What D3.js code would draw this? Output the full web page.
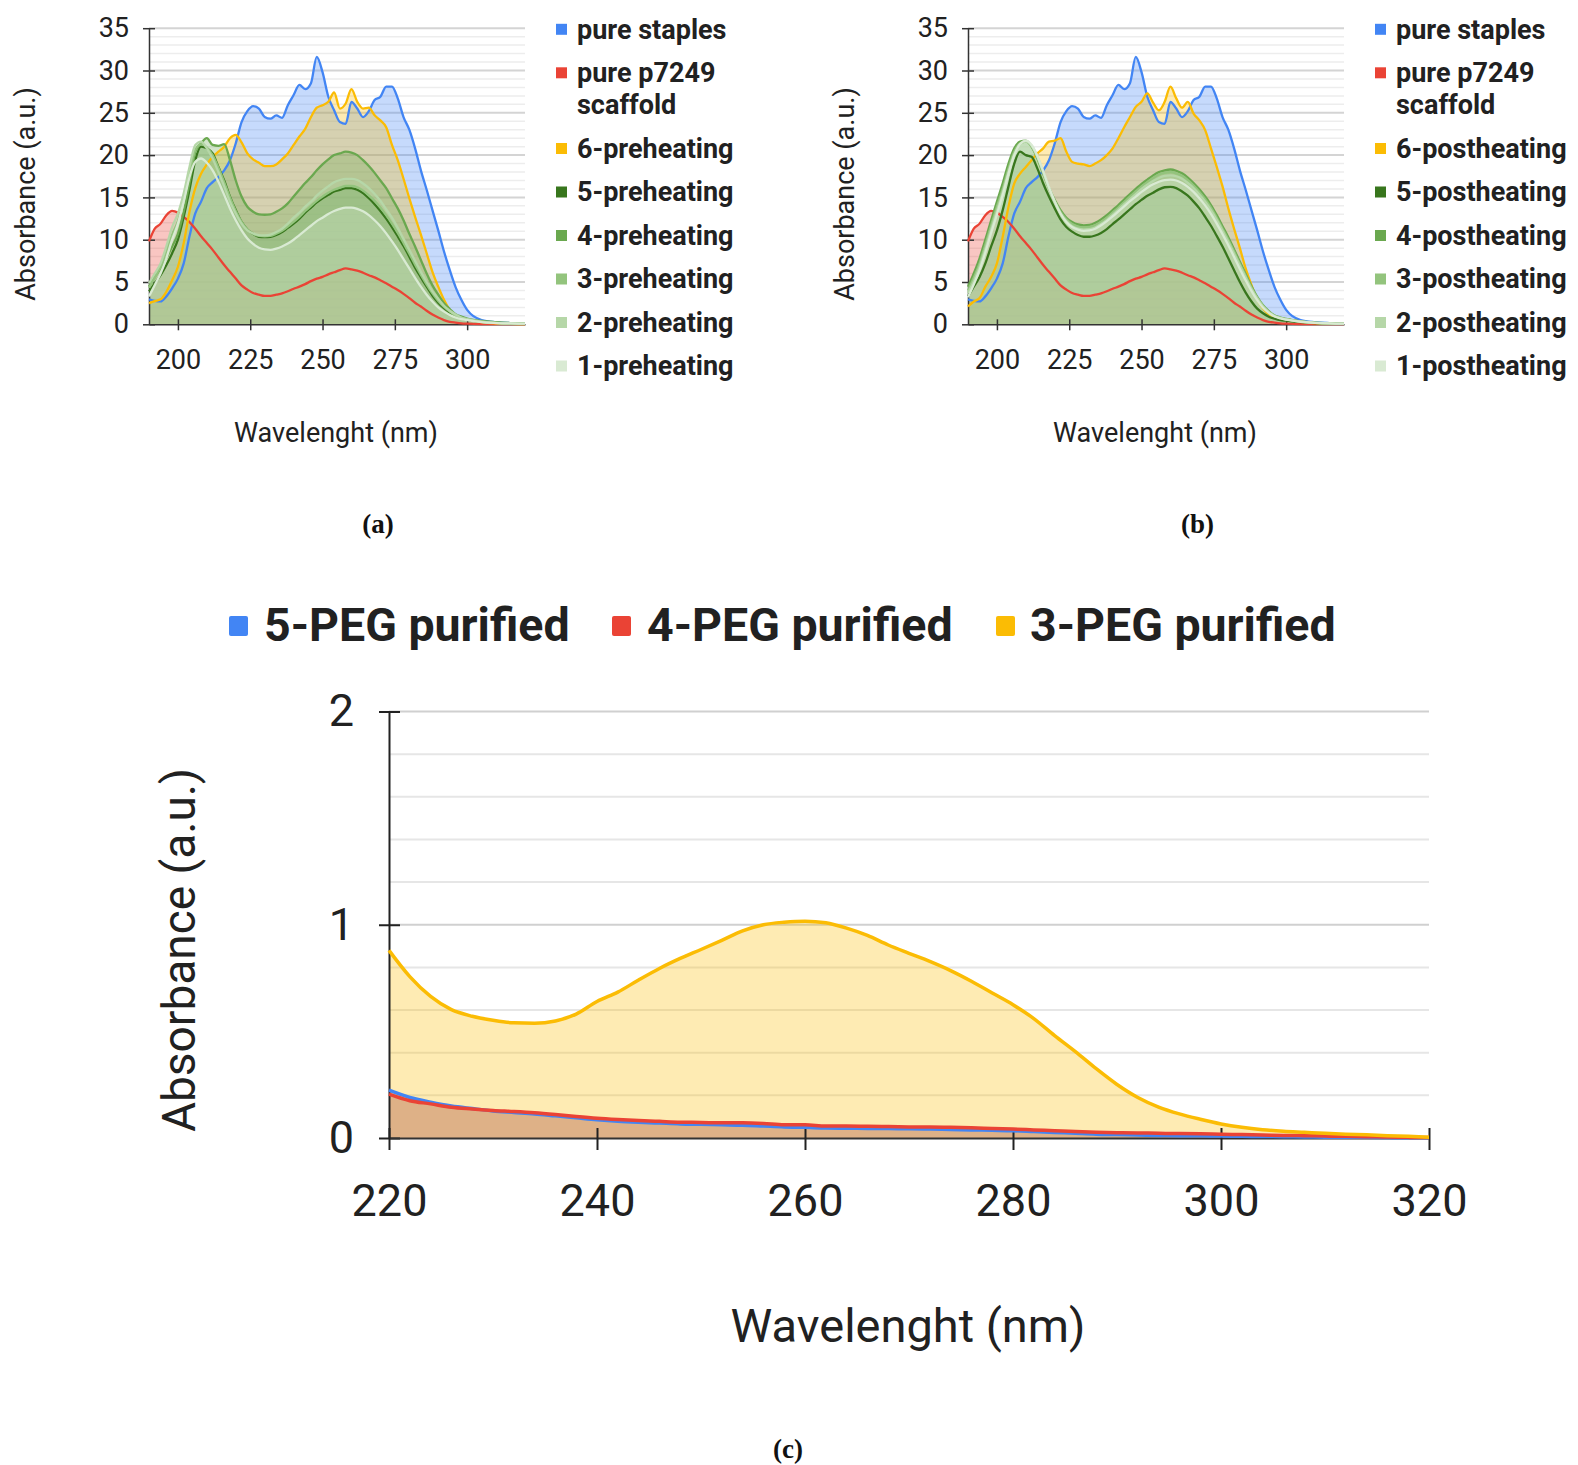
<!DOCTYPE html>
<html>
<head>
<meta charset="utf-8">
<script src="https://cdn.jsdelivr.net/npm/d3@7"></script>
<style>
  body { margin: 0; background: #fff; }
  svg { display: block; font-family: Roboto, sans-serif; }
</style>
</head>
<body>
<svg id="fig" width="1578" height="1465"></svg>
<script>
// ---- panels (a) and (b): UV spectra, 190-320 nm ----
var wavelengths = [190, 192, 194, 196, 198, 200, 202, 204, 206, 208,
  210, 212, 214, 216, 218, 220, 222, 224, 226, 228,
  230, 232, 234, 236, 238, 240, 242, 244, 246, 248,
  250, 252, 254, 256, 258, 260, 262, 264, 266, 268,
  270, 272, 274, 276, 278, 280, 282, 284, 286, 288,
  290, 292, 294, 296, 298, 300, 305, 310, 315, 320];

var pureStaples = [2.95, 2.76, 2.7, 3.3, 4.25, 5.4, 7.2, 10.4, 13.1, 14.5,
  16.1, 16.8, 17.4, 18.2, 19.4, 21.4, 23.9, 25.2, 25.8, 25.5,
  24.5, 24.3, 24.7, 24.4, 25.9, 27.1, 28.3, 27.8, 28.5, 31.6,
  29.8, 26.9, 25.3, 23.9, 23.7, 26.3, 25.5, 24.5, 25.2, 26.5,
  26.9, 28.1, 28.1, 26.7, 24.5, 23.0, 20.8, 18.2, 15.9, 13.5,
  11.1, 8.6, 6.4, 4.4, 2.9, 1.7, 0.5, 0.25, 0.15, 0.1];

var pureScaffold = [9.8, 11.3, 11.9, 12.9, 13.4, 13.2, 12.7, 12.1, 11.3, 10.4,
  9.6, 8.8, 7.9, 7.0, 6.2, 5.4, 4.6, 4.1, 3.7, 3.5,
  3.35, 3.35, 3.5, 3.65, 3.9, 4.2, 4.45, 4.75, 5.1, 5.4,
  5.6, 5.9, 6.15, 6.4, 6.6, 6.5, 6.35, 6.1, 5.8, 5.55,
  5.2, 4.85, 4.45, 4.05, 3.6, 3.1, 2.55, 2.1, 1.6, 1.15,
  0.8, 0.5, 0.3, 0.2, 0.12, 0.08, 0.03, 0.02, 0.01, 0.01];

var pre6 = [2.5, 2.75, 2.95, 3.85, 5.2, 6.8, 9.6, 13.3, 16.1, 17.8,
  18.9, 19.8, 20.4, 21.0, 22.0, 22.4, 21.5, 20.2, 19.5, 19.1,
  18.7, 18.7, 18.9, 19.5, 20.2, 21.2, 22.2, 23.1, 24.5, 25.6,
  25.9, 26.3, 27.4, 25.5, 26.1, 27.8, 26.3, 25.5, 25.6, 24.7,
  24.1, 23.3, 21.2, 19.4, 17.2, 14.9, 12.7, 10.6, 8.4, 6.2,
  4.45, 2.9, 1.7, 1.1, 0.8, 0.6, 0.25, 0.1, 0.05, 0.03];

var pre5 = [3.9, 4.85, 5.8, 7.0, 8.4, 10.0, 12.7, 15.9, 19.4, 21.0,
  20.8, 20.2, 18.6, 17.0, 15.1, 13.5, 12.1, 11.2, 10.7, 10.35,
  10.3, 10.35, 10.55, 10.9, 11.4, 11.9, 12.5, 13.2, 13.8, 14.4,
  14.9, 15.3, 15.7, 15.9, 16.1, 16.1, 15.9, 15.5, 14.9, 14.2,
  13.4, 12.5, 11.5, 10.4, 9.25, 8.0, 6.7, 5.55, 4.45, 3.4,
  2.55, 1.9, 1.4, 1.0, 0.7, 0.55, 0.3, 0.18, 0.1, 0.07];

var pre4 = [4.45, 5.6, 6.6, 7.8, 9.2, 10.7, 13.3, 16.7, 20.4, 21.4,
  22.0, 21.2, 21.1, 21.3, 19.4, 17.0, 15.1, 13.9, 13.3, 13.0,
  12.95, 13.0, 13.3, 13.7, 14.3, 15.1, 15.9, 16.7, 17.4, 18.2,
  18.9, 19.5, 20.0, 20.2, 20.4, 20.3, 20.0, 19.4, 18.7, 17.9,
  17.0, 16.1, 14.9, 13.7, 12.3, 10.7, 9.2, 7.6, 6.0, 4.6,
  3.5, 2.5, 1.8, 1.2, 0.9, 0.67, 0.4, 0.25, 0.15, 0.1];

var pre3 = [4.3, 5.5, 6.8, 8.6, 10.6, 12.2, 14.6, 17.8, 20.6, 21.3,
  20.9, 20.0, 18.5, 16.8, 15.0, 13.4, 12.1, 11.2, 10.7, 10.45,
  10.4, 10.45, 10.7, 11.05, 11.55, 12.1, 12.7, 13.4, 14.0, 14.6,
  15.1, 15.55, 15.9, 16.15, 16.35, 16.35, 16.2, 15.8, 15.25, 14.6,
  13.8, 12.9, 11.9, 10.8, 9.6, 8.35, 7.05, 5.85, 4.7, 3.65,
  2.75, 2.05, 1.5, 1.05, 0.75, 0.58, 0.3, 0.18, 0.1, 0.07];

var pre2 = [4.85, 6.0, 7.2, 9.2, 11.5, 13.1, 15.5, 18.6, 21.2, 21.6,
  20.8, 19.6, 18.0, 16.3, 14.5, 13.1, 11.9, 11.1, 10.75, 10.55,
  10.5, 10.6, 10.9, 11.3, 11.9, 12.6, 13.2, 13.9, 14.5, 15.2,
  15.8, 16.3, 16.8, 17.05, 17.2, 17.2, 17.05, 16.65, 16.1, 15.4,
  14.6, 13.6, 12.6, 11.4, 10.1, 8.8, 7.5, 6.2, 5.0, 3.9,
  3.0, 2.2, 1.6, 1.15, 0.8, 0.6, 0.3, 0.18, 0.1, 0.07];

var pre1 = [3.3, 4.65, 6.0, 7.8, 10.0, 11.9, 14.5, 17.4, 19.2, 19.6,
  19.1, 18.2, 16.85, 15.3, 13.7, 12.3, 11.1, 10.15, 9.5, 9.05,
  8.85, 8.8, 8.95, 9.2, 9.55, 10.0, 10.55, 11.1, 11.65, 12.2,
  12.6, 13.05, 13.4, 13.65, 13.8, 13.8, 13.65, 13.35, 12.9, 12.3,
  11.6, 10.75, 9.8, 8.8, 7.7, 6.6, 5.5, 4.45, 3.5, 2.7,
  2.0, 1.5, 1.1, 0.8, 0.6, 0.5, 0.25, 0.15, 0.1, 0.07];

var post6 = [2.1, 2.7, 3.1, 4.45, 5.6, 7.2, 10.35, 13.9, 16.65, 17.8,
  18.6, 19.4, 20.2, 20.8, 21.6, 21.7, 22.0, 20.4, 19.2, 19.0,
  18.9, 18.7, 19.0, 19.4, 20.0, 20.8, 22.0, 23.3, 24.5, 25.7,
  26.3, 27.3, 26.2, 25.3, 26.3, 28.1, 26.7, 25.6, 26.3, 24.9,
  24.1, 22.95, 20.8, 18.6, 16.3, 13.7, 11.3, 9.0, 6.6, 4.65,
  2.95, 1.9, 1.2, 0.9, 0.7, 0.6, 0.3, 0.15, 0.08, 0.05];

var post5 = [3.3, 4.45, 5.6, 7.2, 9.2, 11.1, 13.5, 16.3, 19.0, 20.4,
  20.0, 19.8, 18.4, 16.65, 15.1, 13.7, 12.4, 11.5, 10.95, 10.55,
  10.35, 10.35, 10.5, 10.8, 11.25, 11.85, 12.4, 13.0, 13.6, 14.2,
  14.7, 15.2, 15.55, 15.95, 16.2, 16.25, 16.1, 15.7, 15.2, 14.5,
  13.7, 12.7, 11.65, 10.45, 9.2, 7.8, 6.4, 5.0, 3.75, 2.7,
  1.85, 1.3, 0.9, 0.67, 0.5, 0.43, 0.25, 0.15, 0.1, 0.07];

var post4 = [4.45, 6.0, 7.8, 10.0, 12.3, 14.5, 16.65, 19.0, 20.8, 21.6,
  21.7, 21.0, 19.6, 17.8, 16.1, 14.7, 13.5, 12.6, 12.1, 11.8,
  11.7, 11.75, 12.0, 12.4, 12.9, 13.5, 14.1, 14.75, 15.4, 16.0,
  16.6, 17.1, 17.6, 18.0, 18.2, 18.3, 18.15, 17.85, 17.35, 16.7,
  15.95, 15.1, 14.1, 12.9, 11.6, 10.3, 8.85, 7.4, 5.95, 4.5,
  3.25, 2.25, 1.55, 1.05, 0.8, 0.63, 0.35, 0.2, 0.12, 0.08];

var post3 = [4.0, 5.5, 7.2, 9.4, 11.7, 13.9, 16.0, 18.4, 20.4, 21.4,
  21.6, 21.0, 19.7, 17.9, 16.1, 14.6, 13.3, 12.4, 11.85, 11.55,
  11.45, 11.5, 11.7, 12.1, 12.6, 13.2, 13.8, 14.45, 15.1, 15.7,
  16.3, 16.8, 17.3, 17.7, 17.9, 18.0, 17.85, 17.55, 17.05, 16.4,
  15.65, 14.8, 13.8, 12.6, 11.3, 10.0, 8.6, 7.15, 5.75, 4.35,
  3.15, 2.2, 1.5, 1.0, 0.77, 0.6, 0.33, 0.19, 0.11, 0.08];

var post2 = [3.7, 5.1, 6.8, 8.9, 11.2, 13.4, 15.6, 18.0, 20.1, 21.3,
  21.6, 21.1, 19.8, 18.0, 16.1, 14.5, 13.1, 12.2, 11.6, 11.3,
  11.2, 11.25, 11.45, 11.85, 12.35, 12.95, 13.55, 14.2, 14.8, 15.4,
  16.0, 16.5, 16.95, 17.3, 17.55, 17.6, 17.5, 17.2, 16.7, 16.1,
  15.35, 14.5, 13.5, 12.35, 11.05, 9.75, 8.35, 6.95, 5.55, 4.2,
  3.05, 2.1, 1.45, 0.98, 0.75, 0.58, 0.32, 0.18, 0.1, 0.07];

var post1 = [3.2, 4.7, 6.4, 8.5, 10.8, 13.0, 15.3, 17.8, 20.0, 21.3,
  21.7, 21.2, 19.9, 18.1, 16.2, 14.5, 13.1, 12.1, 11.5, 11.2,
  11.05, 11.1, 11.3, 11.7, 12.2, 12.75, 13.35, 13.95, 14.55, 15.1,
  15.65, 16.15, 16.55, 16.85, 17.05, 17.1, 17.0, 16.7, 16.25, 15.65,
  14.9, 14.05, 13.05, 11.9, 10.65, 9.35, 7.95, 6.55, 5.2, 3.95,
  2.85, 1.95, 1.35, 0.92, 0.7, 0.55, 0.3, 0.17, 0.1, 0.07];

var labelsA = ["pure staples", "pure p7249 scaffold", "6-preheating", "5-preheating",
  "4-preheating", "3-preheating", "2-preheating", "1-preheating"];
var labelsB = ["pure staples", "pure p7249 scaffold", "6-postheating", "5-postheating",
  "4-postheating", "3-postheating", "2-postheating", "1-postheating"];
var spectrumColors = ["#4285f4", "#ea4335", "#fbbc04", "#38761d",
  "#6aa84f", "#93c47d", "#b6d7a8", "#d9ead3"];
var absTicks = [0, 5, 10, 15, 20, 25, 30, 35];
var nmTicks = [200, 225, 250, 275, 300];

// ---- panel (c): PEG purified samples, 220-320 nm ----
var wavelengthsC = [220, 222, 224, 226, 228, 230, 232, 234, 236, 238,
  240, 242, 244, 246, 248, 250, 252, 254, 256, 258,
  260, 262, 264, 266, 268, 270, 272, 274, 276, 278,
  280, 282, 284, 286, 288, 290, 292, 294, 296, 298,
  300, 302, 304, 306, 308, 310, 312, 314, 316, 318, 320];

var peg5 = [0.224, 0.19, 0.168, 0.15, 0.138, 0.127, 0.12, 0.113, 0.104, 0.095,
  0.086, 0.079, 0.074, 0.07, 0.066, 0.064, 0.062, 0.06, 0.056, 0.052,
  0.05, 0.047, 0.046, 0.045, 0.044, 0.043, 0.042, 0.04, 0.038, 0.036,
  0.034, 0.03, 0.026, 0.022, 0.018, 0.016, 0.014, 0.012, 0.011, 0.01,
  0.009, 0.008, 0.007, 0.006, 0.005, 0.004, 0.003, 0.003, 0.002, 0.001, 0.001];

var peg4 = [0.206, 0.175, 0.16, 0.144, 0.136, 0.129, 0.124, 0.118, 0.11, 0.101,
  0.093, 0.087, 0.082, 0.078, 0.074, 0.073, 0.071, 0.071, 0.068, 0.062,
  0.062, 0.056, 0.056, 0.055, 0.054, 0.052, 0.051, 0.05, 0.048, 0.045,
  0.042, 0.038, 0.034, 0.03, 0.027, 0.025, 0.024, 0.022, 0.021, 0.02,
  0.018, 0.016, 0.014, 0.012, 0.011, 0.009, 0.008, 0.006, 0.005, 0.003, 0.002];

var peg3 = [0.88, 0.757, 0.664, 0.602, 0.571, 0.552, 0.54, 0.538, 0.549, 0.581,
  0.64, 0.684, 0.741, 0.795, 0.842, 0.884, 0.927, 0.971, 1.0, 1.012,
  1.017, 1.009, 0.984, 0.95, 0.905, 0.866, 0.828, 0.785, 0.735, 0.68,
  0.625, 0.56, 0.48, 0.405, 0.325, 0.251, 0.19, 0.145, 0.113, 0.088,
  0.066, 0.05, 0.039, 0.032, 0.027, 0.022, 0.018, 0.015, 0.011, 0.008, 0.004];

var labelsC = ["5-PEG purified", "4-PEG purified", "3-PEG purified"];
var pegColors = ["#4285f4", "#ea4335", "#fbbc04"];
var pegTicksX = [220, 240, 260, 280, 300, 320];
var pegTicksY = [0, 1, 2];

var svg = d3.select("#fig");
var ink = "#212121";
var small = 27;

function styleAxis(a, size) {
  a.attr("font-family", "Roboto").attr("font-size", size);
  a.selectAll("text").attr("fill", ink);
  a.select(".domain").attr("stroke", "#333").attr("stroke-width", 1.5);
  a.selectAll(".tick line").attr("stroke", "#333").attr("stroke-width", 1.5);
}

function wrapLabel(text, label, maxWidth, lineHeight) {
  var words = label.split(" "), line = [], n = 1;
  var tspan = text.append("tspan").attr("x", text.attr("x"));
  words.forEach(function(w) {
    line.push(w);
    tspan.text(line.join(" "));
    if (line.length > 1 && tspan.node().getComputedTextLength() > maxWidth) {
      line.pop();
      tspan.text(line.join(" "));
      line = [w];
      n++;
      tspan = text.append("tspan").attr("x", text.attr("x")).attr("dy", lineHeight).text(w);
    }
  });
  return n;
}

function spectrumPanel(dx, labels, series) {
  var left = 149 + dx, right = 525 + dx, top = 28.2, bottom = 324.3;
  var x = d3.scaleLinear().domain([190, 320]).range([left, right]);
  var y = d3.scaleLinear().domain([0, 35]).range([bottom, top]);
  var g = svg.append("g");

  // grid: light line every unit, darker every 5
  g.append("g").selectAll("line").data(y.ticks(35).filter(function(d) { return d > 0; }))
    .enter().append("line")
    .attr("x1", left).attr("x2", right)
    .attr("y1", function(d) { return y(d); }).attr("y2", function(d) { return y(d); })
    .attr("stroke", function(d) { return d % 5 ? "#ededed" : "#d4d4d4"; })
    .attr("stroke-width", function(d) { return d % 5 ? 1.5 : 2; });

  var rows = series.map(function(s) {
    return wavelengths.map(function(w, i) { return [w, s[i]]; });
  });
  var area = d3.area().curve(d3.curveMonotoneX)
    .x(function(d) { return x(d[0]); }).y0(y(0)).y1(function(d) { return y(d[1]); });
  var line = d3.line().curve(d3.curveMonotoneX)
    .x(function(d) { return x(d[0]); }).y(function(d) { return y(d[1]); });

  g.append("g").selectAll("path").data(rows).enter().append("path")
    .attr("d", area).attr("fill", function(d, i) { return spectrumColors[i]; })
    .attr("fill-opacity", 0.3);

  g.append("g").attr("transform", "translate(" + left + ",0)")
    .call(d3.axisLeft(y).tickValues(absTicks).tickSize(6).tickPadding(14).tickSizeOuter(0))
    .call(function(a) { styleAxis(a, small); a.selectAll(".tick line").attr("x1", 6); });

  g.append("g").attr("transform", "translate(0," + bottom + ")")
    .call(d3.axisBottom(x).tickValues(nmTicks).tickSize(6).tickPadding(20).tickSizeOuter(0))
    .call(function(a) { styleAxis(a, small); a.selectAll(".tick line").attr("y1", -5); });

  g.append("g").selectAll("path").data(rows).enter().append("path")
    .attr("d", line).attr("fill", "none")
    .attr("stroke", function(d, i) { return spectrumColors[i]; })
    .attr("stroke-width", 2.3).attr("stroke-linejoin", "round");

  g.append("text")
    .attr("transform", "translate(" + (26 + dx) + ",194) rotate(-90)")
    .attr("text-anchor", "middle").attr("dy", "0.35em")
    .attr("font-size", small).attr("fill", ink).text("Absorbance (a.u.)");
  g.append("text")
    .attr("x", 336 + dx).attr("y", 433).attr("text-anchor", "middle").attr("dy", "0.35em")
    .attr("font-size", small).attr("fill", ink).text("Wavelenght (nm)");

  // legend
  var ly = 29.3;
  labels.forEach(function(lab, i) {
    g.append("rect").attr("x", 556 + dx).attr("y", ly - 5.5)
      .attr("width", 11).attr("height", 11).attr("fill", spectrumColors[i]);
    var t = g.append("text").attr("x", 577 + dx).attr("y", ly).attr("dy", "0.35em")
      .attr("font-size", small).attr("font-weight", "bold").attr("fill", ink);
    var n = wrapLabel(t, lab, 165, 32.2);
    ly += 43.5 + (n - 1) * 32.2;
  });
}

spectrumPanel(0, labelsA, [pureStaples, pureScaffold, pre6, pre5, pre4, pre3, pre2, pre1]);
spectrumPanel(819, labelsB, [pureStaples, pureScaffold, post6, post5, post4, post3, post2, post1]);

// ---- panel (c) ----
(function() {
  var left = 389, right = 1429, bottom = 1138, top = 711.5;
  var x = d3.scaleLinear().domain([220, 320]).range([left, right]);
  var y = d3.scaleLinear().domain([0, 2]).range([bottom, top]);
  var g = svg.append("g");

  g.append("g").selectAll("line").data(y.ticks(10).filter(function(d) { return d > 0; }))
    .enter().append("line")
    .attr("x1", left).attr("x2", right)
    .attr("y1", function(d) { return y(d); }).attr("y2", function(d) { return y(d); })
    .attr("stroke", function(d) { return Math.abs(d - Math.round(d)) < 1e-6 ? "#d0d0d0" : "#e6e6e6"; })
    .attr("stroke-width", 2);

  var rows = [peg5, peg4, peg3].map(function(s) {
    return wavelengthsC.map(function(w, i) { return [w, s[i]]; });
  });
  var area = d3.area().curve(d3.curveMonotoneX)
    .x(function(d) { return x(d[0]); }).y0(y(0)).y1(function(d) { return y(d[1]); });
  var line = d3.line().curve(d3.curveMonotoneX)
    .x(function(d) { return x(d[0]); }).y(function(d) { return y(d[1]); });

  g.append("g").selectAll("path").data(rows).enter().append("path")
    .attr("d", area).attr("fill", function(d, i) { return pegColors[i]; })
    .attr("fill-opacity", 0.3);

  g.append("g").attr("transform", "translate(" + left + ",0)")
    .call(d3.axisLeft(y).tickValues(pegTicksY).tickFormat(d3.format("d"))
      .tickSize(10).tickPadding(25).tickSizeOuter(0))
    .call(function(a) {
      styleAxis(a, 45);
      a.select(".domain").attr("stroke", "#222").attr("stroke-width", 2);
      a.selectAll(".tick line").attr("x1", 11).attr("stroke", "#222").attr("stroke-width", 2);
    });

  g.append("g").attr("transform", "translate(0," + bottom + ")")
    .call(d3.axisBottom(x).tickValues(pegTicksX).tickSize(12).tickPadding(34).tickSizeOuter(0))
    .call(function(a) {
      styleAxis(a, 45);
      a.select(".domain").attr("stroke", "#333").attr("stroke-width", 2);
      a.selectAll(".tick line").attr("y1", -10).attr("stroke", "#222").attr("stroke-width", 2);
    });

  g.append("g").selectAll("path").data(rows).enter().append("path")
    .attr("d", line).attr("fill", "none")
    .attr("stroke", function(d, i) { return pegColors[i]; })
    .attr("stroke-width", 3.5).attr("stroke-linejoin", "round");

  g.append("text")
    .attr("transform", "translate(179,950) rotate(-90)")
    .attr("text-anchor", "middle").attr("dy", "0.35em")
    .attr("font-size", 46).attr("fill", ink).text("Absorbance (a.u.)");
  g.append("text")
    .attr("x", 908).attr("y", 1326).attr("text-anchor", "middle").attr("dy", "0.35em")
    .attr("font-size", 47).attr("fill", ink).text("Wavelenght (nm)");

  // legend across the top
  var sqX = [229, 612, 996], txX = [264, 647, 1030];
  labelsC.forEach(function(lab, i) {
    g.append("rect").attr("x", sqX[i]).attr("y", 616).attr("width", 19).attr("height", 20)
      .attr("rx", 2).attr("fill", pegColors[i]);
    g.append("text").attr("x", txX[i]).attr("y", 625).attr("dy", "0.35em")
      .attr("font-size", 46.5).attr("font-weight", "bold").attr("fill", ink).text(lab);
  });
})();

// sub-figure captions
[["(a)", 378, 524], ["(b)", 1197.5, 524], ["(c)", 788, 1449]].forEach(function(c) {
  svg.append("text").attr("x", c[1]).attr("y", c[2]).attr("dy", "0.35em")
    .attr("text-anchor", "middle").attr("font-family", "Liberation Serif, serif")
    .attr("font-weight", "bold").attr("font-size", 27).attr("fill", "#111").text(c[0]);
});
</script>
</body>
</html>
